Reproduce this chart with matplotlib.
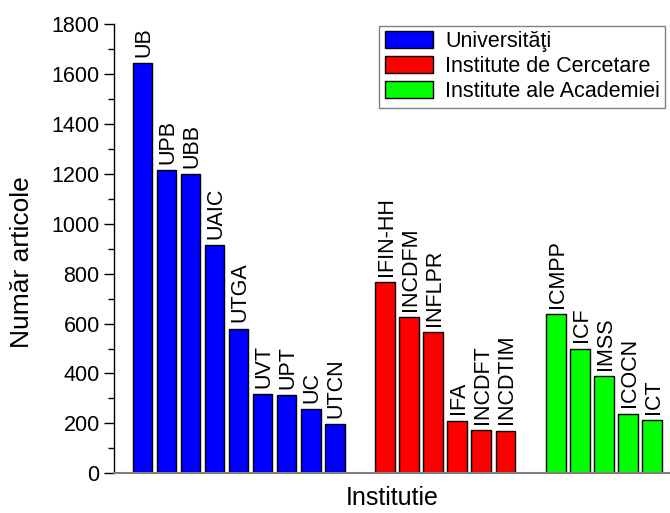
import matplotlib
matplotlib.use("Agg")
import matplotlib.pyplot as plt
from matplotlib.patches import Patch

plt.rcParams['font.family'] = ['Liberation Sans', 'DejaVu Sans']

univ_names = ["UB", "UPB", "UBB", "UAIC", "UTGA", "UVT", "UPT", "UC", "UTCN"]
univ_vals = [1645, 1215, 1200, 915, 580, 317, 312, 258, 198]

inst_names = ["IFIN-HH", "INCDFM", "INFLPR", "IFA", "INCDFT", "INCDTIM"]
inst_vals = [767, 627, 565, 211, 172, 171]

acad_names = ["ICMPP", "ICF", "IMSS", "ICOCN", "ICT"]
acad_vals = [639, 500, 390, 239, 214]

legend_labels = ["Universităţi", "Institute de Cercetare", "Institute ale Academiei"]
colors = ["#0000ff", "#ff0000", "#00ff00"]

fig = plt.figure(figsize=(6.7, 5.13), dpi=100)
ax = fig.add_axes([0.1706, 0.0774, 0.8294, 0.8756])

groups = [(univ_names, univ_vals, 0.0), (inst_names, inst_vals, 10.1), (acad_names, acad_vals, 17.2)]
for (names, vals, start), col in zip(groups, colors):
    xs = [start + i for i in range(len(vals))]
    ax.bar(xs, vals, width=0.82, color=col, edgecolor='black', linewidth=1)
    for x, v, n in zip(xs, vals, names):
        ax.annotate(n, (x, v), xytext=(1, 4.5), textcoords='offset points',
                    rotation=90, ha='center', va='bottom', fontsize=15.5)

ax.set_xlim(-1.17, 21.95)
ax.set_ylim(0, 1800)
ax.set_yticks(range(0, 1801, 200))
ax.set_yticks(range(100, 1800, 200), minor=True)
ax.set_xticks([])
ax.tick_params(axis='y', which='major', direction='out', length=7, width=1, labelsize=15.5)
ax.tick_params(axis='y', which='minor', direction='out', length=4, width=1)
for s in ['top', 'right']:
    ax.spines[s].set_visible(False)
ax.spines['bottom'].set_color('#808080')
ax.spines['bottom'].set_linewidth(1.5)
ax.spines['left'].set_linewidth(1)

ax.set_ylabel("Număr articole", fontsize=19)
ax.yaxis.set_label_coords(-0.145, 0.47)
ax.set_xlabel("Institutie", fontsize=18, labelpad=9)

handles = [Patch(facecolor=c, edgecolor='black') for c in colors]
leg = ax.legend(handles, legend_labels, loc='upper left', bbox_to_anchor=(0.477, 0.996),
                fontsize=15.5, frameon=True, fancybox=False, handlelength=2.25,
                handleheight=0.85, labelspacing=0.18, borderpad=0.25, handletextpad=0.55,
                borderaxespad=0)
leg.get_frame().set_edgecolor('#606060')
leg.get_frame().set_linewidth(1)

fig.savefig("out.png", dpi=100)
